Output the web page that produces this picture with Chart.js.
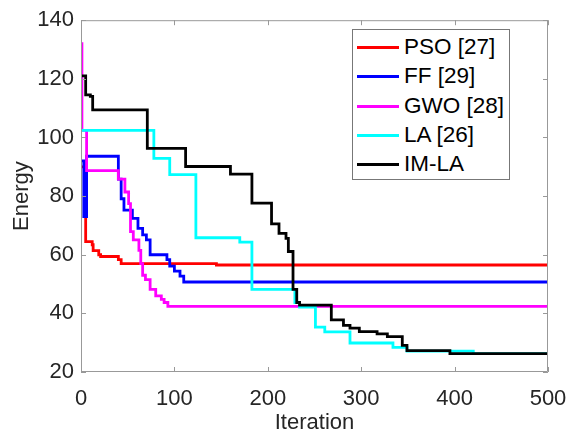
<!DOCTYPE html>
<html>
<head>
<meta charset="utf-8">
<script src="https://cdn.jsdelivr.net/npm/chart.js@4"></script>
<style>
body { margin: 0; background: #fff; }
#wrap { position: relative; width: 566px; height: 439px; }
#legend {
    position: absolute; left: 352px; top: 29px; width: 156px; height: 149px;
    border: 1px solid #777; background: #fff;
    font: 22.5px 'Liberation Sans', Arial, sans-serif; color: #000;
}
.legend-item { position: absolute; left: 0; height: 30px; line-height: 30px; white-space: nowrap; }
.legend-line { position: absolute; left: 4px; top: 14px; width: 42px; height: 3px; }
.legend-text { position: absolute; left: 51px; }
</style>
</head>
<body>
<div id="wrap">
    <canvas id="energyChart"></canvas>
    <div id="legend"></div>
</div>
<script>
// Convergence data (iteration where the value changes, energy from that iteration on)
const psoIter = [0, 5, 12, 13, 19, 21, 40, 43, 145, 500];
const psoEnergy = [90, 64.5, 63.4, 61.4, 60, 59.4, 58.3, 57, 56.5, 56.5];

const ffIter = [0, 3, 6, 40, 43, 46, 55, 61, 66, 70, 74, 92, 95, 100, 106, 110, 500];
const ffEnergy = [92, 73, 93.6, 85.8, 79.1, 75.2, 72.4, 69, 66.8, 65.1, 60, 58.3, 56.1, 54.4, 52.7, 50.7, 50.7];

const gwoIter = [0, 1, 6, 40, 47, 51, 53, 56, 62, 64, 66, 69, 74, 80, 86, 89, 93, 500];
const gwoEnergy = [132, 102.4, 88.7, 85.8, 81.4, 77.4, 67.9, 65.1, 61.5, 57, 53, 51.5, 48.2, 46, 44.8, 43.7, 42.4, 42.4];

const laIter = [0, 78, 95, 123, 170, 183, 229, 234, 251, 261, 288, 334, 349, 420, 500];
const laEnergy = [102.4, 92.9, 87.3, 65.8, 64.3, 48.2, 43.7, 42.1, 35.3, 33.7, 29.9, 28.4, 27.1, 26.3, 26.3];

const imlaIter = [0, 5, 10, 12.5, 71, 112, 160, 183, 204, 212, 219.5, 222, 227, 231, 234, 268, 281, 288, 298, 317, 328, 344, 349, 395, 500];
const imlaEnergy = [121, 114.5, 114, 109.4, 96.3, 90.1, 87.5, 77.6, 70.5, 67.3, 65.6, 61.1, 48.2, 43.7, 42.8, 37.8, 35.9, 35, 33.8, 33, 32.1, 29.1, 27.3, 26.3, 26.3];

const seriesLabels = ['PSO [27]', 'FF [29]', 'GWO [28]', 'LA [26]', 'IM-LA'];
const seriesColors = ['#ff0000', '#0000ff', '#ff00ff', '#00ffff', '#000000'];
const xTicks = [0, 100, 200, 300, 400, 500];
const yTicks = [20, 40, 60, 80, 100, 120, 140];

const FONT = "'Liberation Sans', Arial, sans-serif";
const toPoints = (xs, ys) => xs.map((x, i) => ({ x: x, y: ys[i] }));
const allSeries = [
    toPoints(psoIter, psoEnergy),
    toPoints(ffIter, ffEnergy),
    toPoints(gwoIter, gwoEnergy),
    toPoints(laIter, laEnergy),
    toPoints(imlaIter, imlaEnergy)
];

// box around the axes plus inward tick marks, like MATLAB
const frameTicks = {
    id: 'frameTicks',
    afterDatasetsDraw(chart) {
        const { ctx, chartArea: a, scales: { x, y } } = chart;
        ctx.save();
        ctx.strokeStyle = '#999';
        ctx.lineWidth = 1;
        ctx.beginPath();
        ctx.rect(a.left + 0.5, a.top + 0.5, a.right - a.left - 1, a.bottom - a.top - 1);
        xTicks.forEach(v => {
            const px = Math.round(x.getPixelForValue(v)) + 0.5;
            ctx.moveTo(px, a.bottom); ctx.lineTo(px, a.bottom - 5);
            ctx.moveTo(px, a.top); ctx.lineTo(px, a.top + 5);
        });
        yTicks.forEach(v => {
            const py = Math.round(y.getPixelForValue(v)) + 0.5;
            ctx.moveTo(a.left, py); ctx.lineTo(a.left + 5, py);
            ctx.moveTo(a.right, py); ctx.lineTo(a.right - 5, py);
        });
        ctx.stroke();
        ctx.restore();
    }
};

const ctx = document.getElementById('energyChart').getContext('2d');
const energyChart = new Chart(ctx, {
    type: 'line',
    data: {
        datasets: allSeries.map((pts, i) => ({
            label: seriesLabels[i],
            data: pts,
            borderColor: seriesColors[i],
            backgroundColor: seriesColors[i],
            borderWidth: 2.8,
            pointRadius: 0,
            stepped: true,
            fill: false,
            order: seriesLabels.length - i
        }))
    },
    options: {
        responsive: true,
        maintainAspectRatio: false,
        animation: false,
        layout: { padding: { top: 16, right: 0, left: 0, bottom: 0 } },
        scales: {
            x: {
                type: 'linear',
                min: 0,
                max: 500,
                afterBuildTicks: s => { s.ticks = xTicks.map(v => ({ value: v })); },
                afterFit: s => { s.height = 67; s.paddingRight = 18; },
                grid: { display: false, drawTicks: false },
                border: { display: false },
                ticks: {
                    font: { size: 22, family: FONT },
                    color: '#262626',
                    padding: 14,
                    maxRotation: 0
                },
                title: {
                    display: true,
                    text: 'Iteration',
                    font: { size: 22, family: FONT },
                    color: '#262626',
                    padding: { top: 0, bottom: 3 }
                }
            },
            y: {
                min: 20,
                max: 140,
                afterBuildTicks: s => { s.ticks = yTicks.map(v => ({ value: v })); },
                afterFit: s => { s.width = 81; },
                grid: { display: false, drawTicks: false },
                border: { display: false },
                ticks: {
                    font: { size: 22, family: FONT },
                    color: '#262626',
                    padding: 7
                },
                title: {
                    display: true,
                    text: 'Energy',
                    font: { size: 22, family: FONT },
                    color: '#262626',
                    padding: { top: 9, bottom: 0 }
                }
            }
        },
        plugins: {
            legend: { display: false },
            tooltip: { enabled: false }
        }
    },
    plugins: [frameTicks]
});

// Custom legend inside the plot, top right
function createCustomLegend(legendId, labels, colors) {
    const legendContainer = document.getElementById(legendId);
    legendContainer.innerHTML = labels.map((label, index) => `
        <div class="legend-item" style="top:${2 + index * 29.3}px;">
            <span class="legend-line" style="background-color:${colors[index]};"></span>
            <span class="legend-text">${label}</span>
        </div>
    `).join('');
}
createCustomLegend('legend', seriesLabels, seriesColors);
</script>
</body>
</html>
